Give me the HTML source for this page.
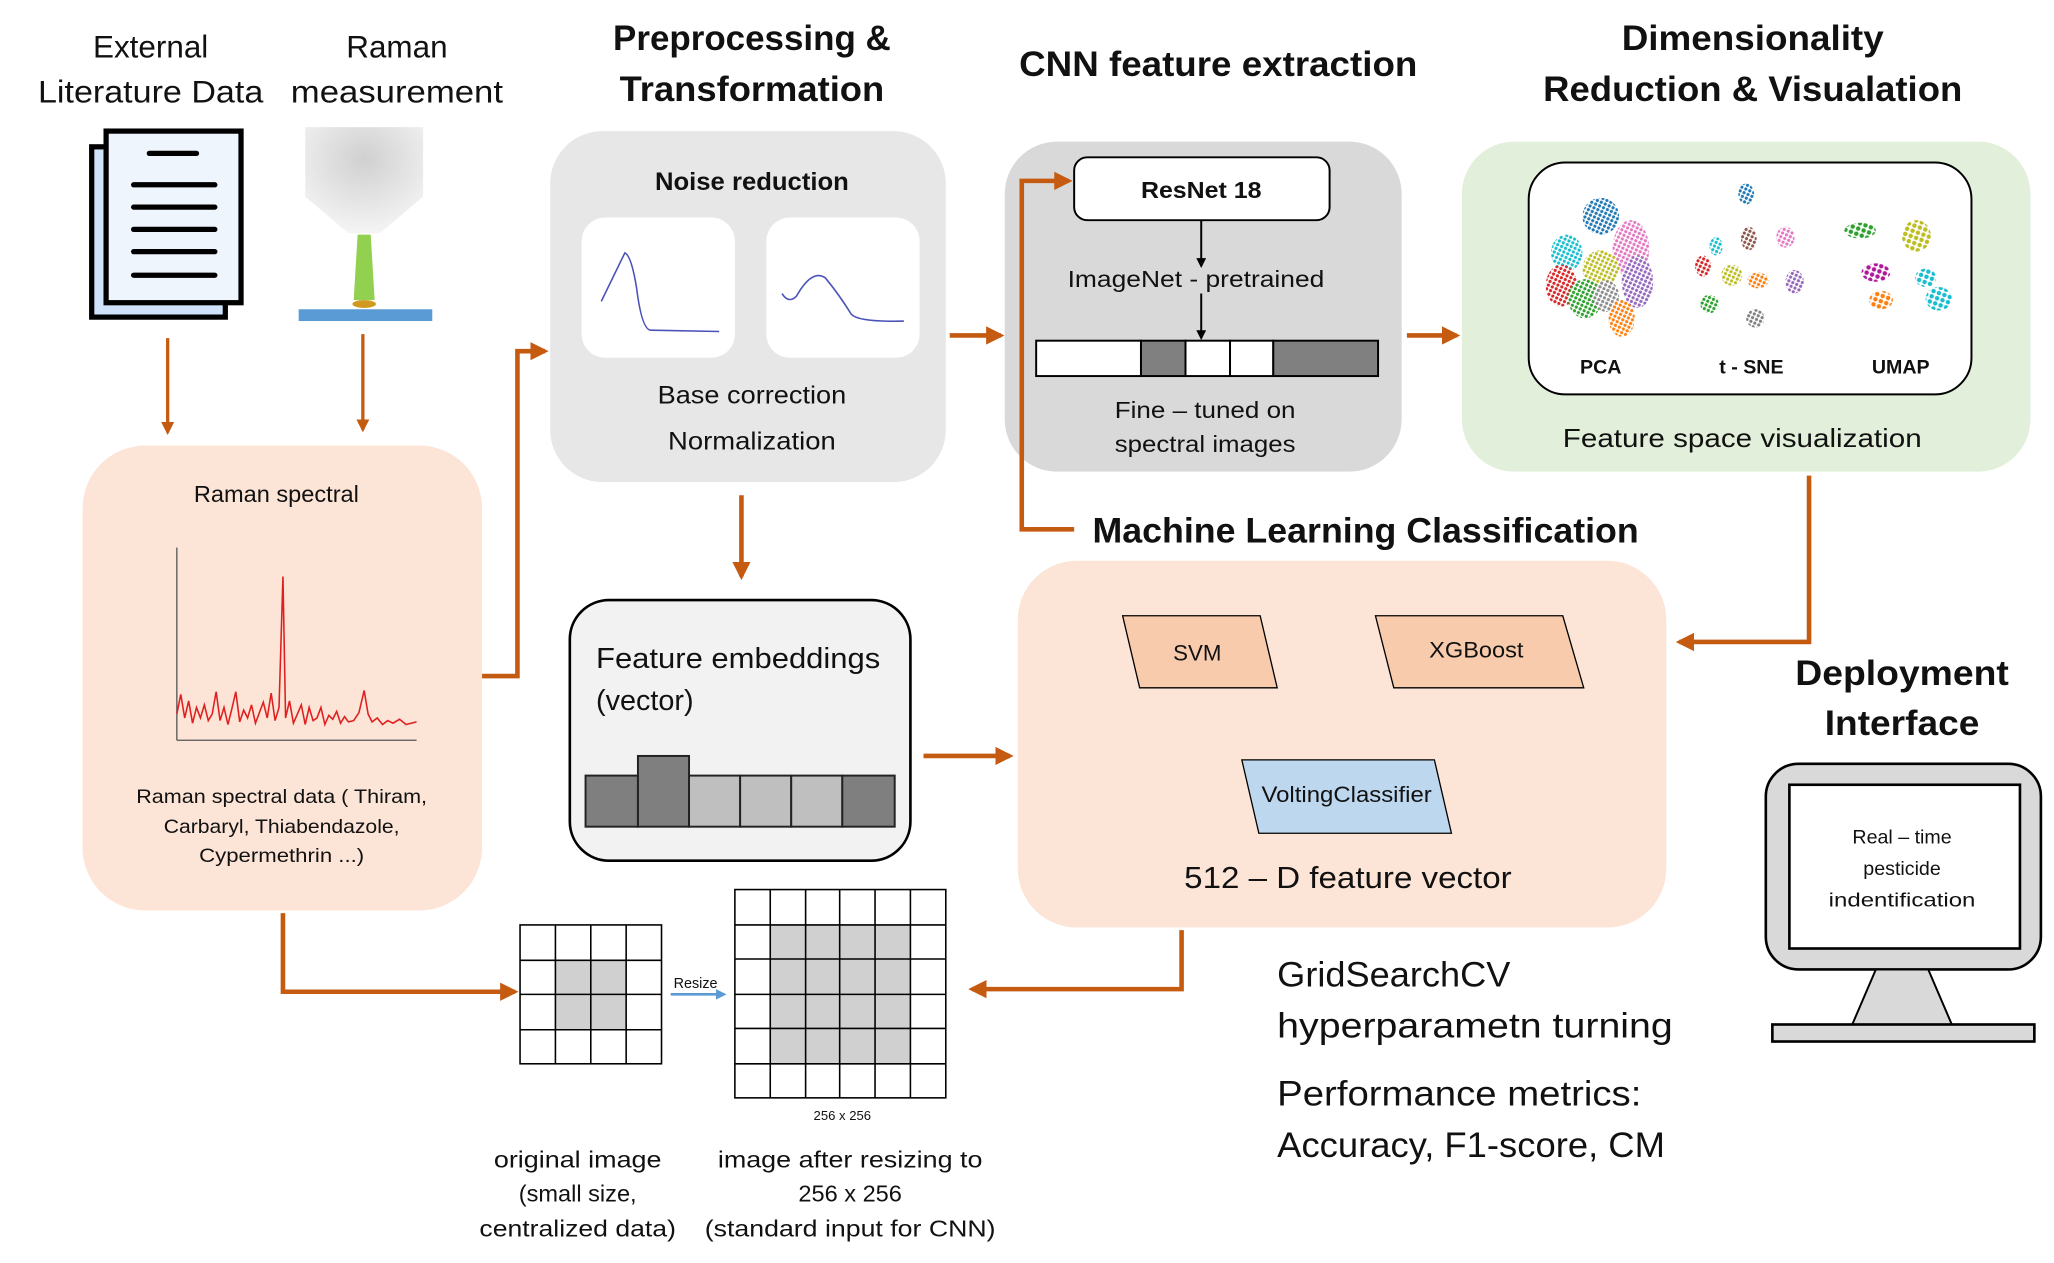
<!DOCTYPE html>
<html><head><meta charset="utf-8"><style>html,body{margin:0;padding:0;background:#fff}svg{display:block}text{font-family:"Liberation Sans",sans-serif;fill:#111}</style></head>
<body>
<svg id="s" width="2054" height="1263" viewBox="0 0 1568 964" xmlns="http://www.w3.org/2000/svg">
<defs>
<marker id="a" viewBox="0 0 10 10" refX="8" refY="5" markerWidth="4" markerHeight="4" orient="auto"><path d="M0,0L10,5L0,10z" fill="#c55a11"/></marker>
<marker id="k" viewBox="0 0 10 10" refX="8" refY="5" markerWidth="5" markerHeight="5" orient="auto"><path d="M0,0L10,5L0,10z" fill="#000"/></marker>
<marker id="b" viewBox="0 0 10 10" refX="8" refY="5" markerWidth="4" markerHeight="4" orient="auto"><path d="M0,0L10,5L0,10z" fill="#5b9bd5"/></marker>
<radialGradient id="cg" cx="0.5" cy="0.3" r="0.7"><stop offset="0" stop-color="#d0d0d0"/><stop offset="1" stop-color="#f4f4f4"/></radialGradient>
<pattern id="dp" width="3.3" height="3.1" patternUnits="userSpaceOnUse" patternTransform="rotate(25)"><circle cx="1.6" cy="1.5" r="1.2" fill="#fff"/></pattern>
<pattern id="dp2" width="4.4" height="4.2" patternUnits="userSpaceOnUse" patternTransform="rotate(20)"><circle cx="2.2" cy="2.1" r="1.7" fill="#fff"/></pattern>
<mask id="m1" maskUnits="userSpaceOnUse" x="1160" y="120" width="260" height="180"><rect x="1160" y="120" width="260" height="180" fill="url(#dp)"/></mask>
<mask id="m2" maskUnits="userSpaceOnUse" x="1390" y="120" width="110" height="180"><rect x="1390" y="120" width="110" height="180" fill="url(#dp2)"/></mask>
</defs>

<!-- Headings -->
<g font-size="24" text-anchor="middle">
<text x="115" y="44">External</text>
<text x="115" y="78" textLength="172" lengthAdjust="spacingAndGlyphs">Literature Data</text>
<text x="303" y="44">Raman</text>
<text x="303" y="78" textLength="162" lengthAdjust="spacingAndGlyphs">measurement</text>
</g>
<g font-size="27" font-weight="bold" text-anchor="middle">
<text x="574" y="38" textLength="212" lengthAdjust="spacingAndGlyphs">Preprocessing &amp;</text>
<text x="574" y="77" textLength="202" lengthAdjust="spacingAndGlyphs">Transformation</text>
<text x="930" y="58" textLength="304" lengthAdjust="spacingAndGlyphs">CNN feature extraction</text>
<text x="1338" y="38" textLength="200" lengthAdjust="spacingAndGlyphs">Dimensionality</text>
<text x="1338" y="77" textLength="320" lengthAdjust="spacingAndGlyphs">Reduction &amp; Visualation</text>
<text x="1452" y="523" textLength="163" lengthAdjust="spacingAndGlyphs">Deployment</text>
<text x="1452" y="561" textLength="118" lengthAdjust="spacingAndGlyphs">Interface</text>
</g>
<text x="834" y="414" font-size="27" font-weight="bold" textLength="417" lengthAdjust="spacingAndGlyphs">Machine Learning Classification</text>

<!-- Document icon -->
<rect x="70" y="112" width="102" height="130" fill="#cfe2fa" stroke="#000" stroke-width="4"/>
<rect x="81" y="100" width="103" height="131" fill="#eef5fd" stroke="#000" stroke-width="4"/>
<g stroke="#000" stroke-width="4" stroke-linecap="round">
<line x1="114" y1="117" x2="150" y2="117"/><line x1="102" y1="141" x2="164" y2="141"/><line x1="102" y1="158" x2="164" y2="158"/><line x1="102" y1="175" x2="164" y2="175"/><line x1="102" y1="192" x2="164" y2="192"/><line x1="102" y1="210" x2="164" y2="210"/>
</g>
<!-- Microscope -->
<path d="M233,97H323V150L290,178H266L233,150Z" fill="url(#cg)"/>
<path d="M273,179H283L286,229H270Z" fill="#92d050"/>
<ellipse cx="278" cy="232" rx="9" ry="3" fill="#d09a20"/>
<rect x="228" y="236" width="102" height="9" fill="#5b9bd5"/>

<!-- Raman spectral box -->
<rect x="63" y="340" width="305" height="355" rx="48" fill="#fce4d6"/>
<text x="211" y="383" font-size="18" text-anchor="middle">Raman spectral</text>
<g stroke="#555" stroke-width="1"><line x1="135" y1="418" x2="135" y2="565"/><line x1="135" y1="565" x2="318" y2="565"/></g>
<polyline fill="none" stroke="#e02020" stroke-width="1.2" points="135,545 138,530 141,548 144,535 147,552 150,540 153,548 156,538 159,550 162,545 165,528 168,550 171,540 174,553 177,541 180,528 183,551 186,542 189,548 192,538 195,552 198,544 201,536 204,548 207,529 210,550 213,540 216,440 218,548 221,535 224,552 227,545 230,538 233,553 236,540 239,550 242,548 245,540 248,553 251,546 254,549 257,543 260,552 263,547 266,551 270,550 274,544 278,527 281,545 284,551 288,548 292,553 296,550 300,552 305,549 310,553 318,551"/>
<g font-size="15" text-anchor="middle">
<text x="215" y="613" textLength="222" lengthAdjust="spacingAndGlyphs">Raman spectral data ( Thiram,</text>
<text x="215" y="636" textLength="180" lengthAdjust="spacingAndGlyphs">Carbaryl, Thiabendazole,</text>
<text x="215" y="658" textLength="126" lengthAdjust="spacingAndGlyphs">Cypermethrin ...)</text>
</g>

<!-- Preprocessing box -->
<rect x="420" y="100" width="302" height="268" rx="40" fill="#e7e7e7"/>
<text x="574" y="145" font-size="19" font-weight="bold" text-anchor="middle" textLength="148" lengthAdjust="spacingAndGlyphs">Noise reduction</text>
<rect x="444" y="166" width="117" height="107" rx="18" fill="#fff"/>
<rect x="585" y="166" width="117" height="107" rx="18" fill="#fff"/>
<path d="M459,230 L477,193 Q482,195 486,220 Q490,252 497,252 L549,253" fill="none" stroke="#4a52b8" stroke-width="1.2"/>
<path d="M597,224 Q602,232 608,226 Q620,205 630,212 Q640,224 650,240 Q656,246 690,245" fill="none" stroke="#4a52b8" stroke-width="1.2"/>
<text x="574" y="308" font-size="19" text-anchor="middle" textLength="144" lengthAdjust="spacingAndGlyphs">Base correction</text>
<text x="574" y="343" font-size="19" text-anchor="middle" textLength="128" lengthAdjust="spacingAndGlyphs">Normalization</text>

<!-- CNN box -->
<rect x="767" y="108" width="303" height="252" rx="40" fill="#d9d9d9"/>
<rect x="820" y="120" width="195" height="48" rx="10" fill="#fff" stroke="#000" stroke-width="1.5"/>
<text x="917" y="151" font-size="18" font-weight="bold" text-anchor="middle" textLength="92" lengthAdjust="spacingAndGlyphs">ResNet 18</text>
<line x1="917" y1="168" x2="917" y2="203" stroke="#000" stroke-width="1.5" marker-end="url(#k)"/>
<text x="913" y="219" font-size="18" text-anchor="middle" textLength="196" lengthAdjust="spacingAndGlyphs">ImageNet - pretrained</text>
<line x1="917" y1="224" x2="917" y2="258" stroke="#000" stroke-width="1.5" marker-end="url(#k)"/>
<g stroke="#000" stroke-width="1.5">
<rect x="791" y="260" width="80" height="27" fill="#fff"/><rect x="871" y="260" width="34" height="27" fill="#808080"/><rect x="905" y="260" width="34" height="27" fill="#fff"/><rect x="939" y="260" width="33" height="27" fill="#fff"/><rect x="972" y="260" width="80" height="27" fill="#808080"/>
</g>
<text x="920" y="319" font-size="18" text-anchor="middle" textLength="138" lengthAdjust="spacingAndGlyphs">Fine – tuned on</text>
<text x="920" y="345" font-size="18" text-anchor="middle" textLength="138" lengthAdjust="spacingAndGlyphs">spectral images</text>

<!-- Dim box -->
<rect x="1116" y="108" width="434" height="252" rx="40" fill="#e2efda"/>
<rect x="1167" y="124" width="338" height="177" rx="28" fill="#fff" stroke="#000" stroke-width="1.5"/>
<g mask="url(#m1)">
<ellipse cx="1222" cy="165" rx="14" ry="14" fill="#1f77b4"/>
<ellipse cx="1245" cy="190" rx="14" ry="22" fill="#e377c2"/>
<ellipse cx="1250" cy="215" rx="12" ry="20" fill="#9467bd"/>
<ellipse cx="1196" cy="193" rx="12" ry="14" fill="#17becf"/>
<ellipse cx="1192" cy="218" rx="12" ry="16" fill="#d62728"/>
<ellipse cx="1222" cy="205" rx="14" ry="14" fill="#bcbd22"/>
<ellipse cx="1210" cy="228" rx="13" ry="15" fill="#2ca02c"/>
<ellipse cx="1226" cy="226" rx="10" ry="12" fill="#8c8c8c"/>
<ellipse cx="1238" cy="243" rx="10" ry="14" fill="#ff7f0e"/>
<ellipse cx="1333" cy="148" rx="6" ry="8" fill="#1f77b4"/>
<ellipse cx="1335" cy="182" rx="6" ry="9" fill="#8c564b"/>
<ellipse cx="1363" cy="181" rx="7" ry="8" fill="#e377c2"/>
<ellipse cx="1310" cy="188" rx="5" ry="7" fill="#17becf"/>
<ellipse cx="1300" cy="203" rx="6" ry="8" fill="#d62728"/>
<ellipse cx="1322" cy="210" rx="8" ry="8" fill="#bcbd22"/>
<ellipse cx="1342" cy="214" rx="8" ry="6" fill="#ff7f0e"/>
<ellipse cx="1370" cy="215" rx="7" ry="9" fill="#9467bd"/>
<ellipse cx="1305" cy="232" rx="7" ry="7" fill="#2ca02c"/>
<ellipse cx="1340" cy="243" rx="7" ry="7" fill="#7f7f7f"/>
</g>
<g mask="url(#m2)">
<ellipse cx="1420" cy="176" rx="12" ry="6" fill="#2ca02c"/>
<ellipse cx="1463" cy="180" rx="11" ry="12" fill="#bcbd22"/>
<ellipse cx="1432" cy="208" rx="11" ry="7" fill="#b0179a"/>
<ellipse cx="1470" cy="212" rx="8" ry="7" fill="#17becf"/>
<ellipse cx="1480" cy="228" rx="10" ry="9" fill="#17becf"/>
<ellipse cx="1436" cy="229" rx="9" ry="7" fill="#ff7f0e"/>
</g>
<g font-size="15" font-weight="bold" text-anchor="middle">
<text x="1222" y="285">PCA</text><text x="1337" y="285">t - SNE</text><text x="1451" y="285">UMAP</text></g>
<text x="1330" y="341" font-size="20" text-anchor="middle" textLength="274" lengthAdjust="spacingAndGlyphs">Feature space visualization</text>

<!-- Feature embeddings -->
<rect x="435" y="458" width="260" height="199" rx="30" fill="#f2f2f2" stroke="#000" stroke-width="2"/>
<text x="455" y="510" font-size="22" textLength="217" lengthAdjust="spacingAndGlyphs">Feature embeddings</text>
<text x="455" y="542" font-size="22">(vector)</text>
<g stroke="#222" stroke-width="1.5">
<rect x="447" y="592" width="40" height="39" fill="#7f7f7f"/><rect x="487" y="577" width="39" height="54" fill="#7f7f7f"/><rect x="526" y="592" width="39" height="39" fill="#bfbfbf"/><rect x="565" y="592" width="39" height="39" fill="#bfbfbf"/><rect x="604" y="592" width="39" height="39" fill="#bfbfbf"/><rect x="643" y="592" width="40" height="39" fill="#7f7f7f"/>
</g>

<!-- ML box -->
<rect x="777" y="428" width="495" height="280" rx="45" fill="#fce4d6"/>
<g stroke="#000" stroke-width="1">
<polygon points="857,470 962,470 975,525 870,525" fill="#f8cbad"/>
<polygon points="1050,470 1193,470 1209,525 1064,525" fill="#f8cbad"/>
<polygon points="948,580 1095,580 1108,636 961,636" fill="#bdd7ee"/>
</g>
<g font-size="17" text-anchor="middle">
<text x="914" y="504">SVM</text>
<text x="1127" y="502" textLength="72" lengthAdjust="spacingAndGlyphs">XGBoost</text>
<text x="1028" y="612" textLength="130" lengthAdjust="spacingAndGlyphs">VoltingClassifier</text>
</g>
<text x="1029" y="678" font-size="23" text-anchor="middle" textLength="250" lengthAdjust="spacingAndGlyphs">512 – D feature vector</text>

<!-- grids -->
<g fill="#d0d0d0"><rect x="424" y="733" width="54" height="53"/><rect x="588" y="706" width="107" height="106"/></g>
<g stroke="#000" stroke-width="1.2" fill="none">
<rect x="397" y="706" width="108" height="106"/>
<path d="M424,706V812M451,706V812M478,706V812M397,733H505M397,759H505M397,786H505"/>
<rect x="561" y="679" width="161" height="159"/>
<path d="M588,679V838M615,679V838M641,679V838M668,679V838M695,679V838M561,706H722M561,732H722M561,759H722M561,785H722M561,812H722"/>
</g>
<text x="531" y="754" font-size="11" text-anchor="middle">Resize</text>
<line x1="512" y1="759" x2="553" y2="759" stroke="#5b9bd5" stroke-width="2" marker-end="url(#b)"/>
<text x="643" y="855" font-size="10" text-anchor="middle">256 x 256</text>
<g font-size="18" text-anchor="middle">
<text x="441" y="891" textLength="128" lengthAdjust="spacingAndGlyphs">original image</text>
<text x="441" y="917">(small size,</text>
<text x="441" y="944" textLength="150" lengthAdjust="spacingAndGlyphs">centralized data)</text>
<text x="649" y="891" textLength="202" lengthAdjust="spacingAndGlyphs">image after resizing to</text>
<text x="649" y="917">256 x 256</text>
<text x="649" y="944" textLength="222" lengthAdjust="spacingAndGlyphs">(standard input for CNN)</text>
</g>

<!-- GridSearch text -->
<g font-size="27">
<text x="975" y="753" textLength="178" lengthAdjust="spacingAndGlyphs">GridSearchCV</text>
<text x="975" y="792" textLength="302" lengthAdjust="spacingAndGlyphs">hyperparametn turning</text>
<text x="975" y="844" textLength="278" lengthAdjust="spacingAndGlyphs">Performance metrics:</text>
<text x="975" y="883" textLength="296" lengthAdjust="spacingAndGlyphs">Accuracy, F1-score, CM</text>
</g>

<!-- Monitor -->
<rect x="1348" y="583" width="210" height="157" rx="25" fill="#d9d9d9" stroke="#000" stroke-width="2"/>
<rect x="1366" y="599" width="176" height="125" fill="#fff" stroke="#000" stroke-width="2"/>
<polygon points="1432,740 1472,740 1490,782 1414,782" fill="#d9d9d9" stroke="#000" stroke-width="1.5"/>
<rect x="1353" y="782" width="200" height="13" fill="#d9d9d9" stroke="#000" stroke-width="2"/>
<g font-size="15" text-anchor="middle">
<text x="1452" y="644">Real – time</text><text x="1452" y="668">pesticide</text><text x="1452" y="692" textLength="112" lengthAdjust="spacingAndGlyphs">indentification</text></g>

<!-- Orange connectors (on top) -->
<g stroke="#c55a11" stroke-width="3.5" fill="none">
<line x1="128" y1="258" x2="128" y2="330" stroke-width="2.5" marker-end="url(#a)"/>
<line x1="277" y1="255" x2="277" y2="328" stroke-width="2.5" marker-end="url(#a)"/>
<polyline points="368,516 395,516 395,268 416,268" marker-end="url(#a)"/>
<line x1="566" y1="378" x2="566" y2="440" marker-end="url(#a)"/>
<line x1="725" y1="256" x2="764" y2="256" marker-end="url(#a)"/>
<polyline points="820,404 780,404 780,138 816,138" marker-end="url(#a)"/>
<line x1="1074" y1="256" x2="1112" y2="256" marker-end="url(#a)"/>
<polyline points="1381,363 1381,490 1282,490" marker-end="url(#a)"/>
<line x1="705" y1="577" x2="771" y2="577" marker-end="url(#a)"/>
<polyline points="216,697 216,757 393,757" marker-end="url(#a)"/>
<polyline points="902,710 902,755 742,755" marker-end="url(#a)"/>
</g>
</svg>
</body></html>
